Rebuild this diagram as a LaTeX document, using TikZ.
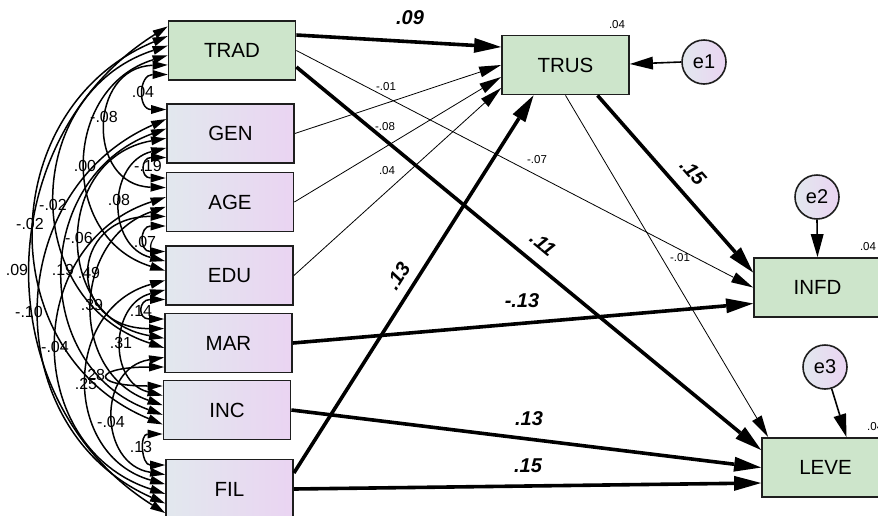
\documentclass[tikz,border=0pt]{standalone}
\usepackage{fontspec}
\setmainfont{Liberation Sans}
\usetikzlibrary{arrows.meta,calc}
\definecolor{boxgreen}{HTML}{CDE5CB}
\definecolor{exoleft}{HTML}{E2E8EE}
\definecolor{exoright}{HTML}{EAD4F2}
\definecolor{edgec}{HTML}{1E1E1E}
\tikzset{
  endo/.style={draw=edgec, line width=1.8pt, fill=boxgreen, minimum width=127pt, minimum height=59pt, inner sep=0pt, font=\fontsize{20.5}{24}\selectfont},
  exo/.style={draw=edgec, line width=1.8pt, left color=exoleft, right color=exoright, minimum width=127pt, minimum height=59pt, inner sep=0pt, font=\fontsize{20.5}{24}\selectfont},
  errc/.style={circle, draw=edgec, line width=1.6pt, left color=exoleft, right color=exoright, minimum size=44pt, inner sep=0pt, font=\fontsize{20}{24}\selectfont},
  bigarr/.style={line width=3.6pt, -{Triangle[length=27pt,width=15pt,line width=0pt]}},
  thinarr/.style={line width=0.8pt, -{Triangle[length=22pt,width=11pt,line width=0pt]}},
  errarr/.style={line width=1.6pt, -{Triangle[length=23pt,width=13pt,line width=0pt]}},
  covline/.style={line width=1.5pt, {Triangle[length=15pt,width=9pt,line width=0pt]}-{Triangle[length=15pt,width=9pt,line width=0pt]}},
  boldlab/.style={font=\fontsize{20}{24}\selectfont\bfseries\itshape, inner sep=0pt},
  smalllab/.style={font=\fontsize{11.5}{13}\selectfont, inner sep=0pt},
  covlab/.style={font=\fontsize{16}{18}\selectfont, inner sep=0pt},
}
% #1 upper node, #2 its offset, #3 lower node, #4 its offset, #5 leftmost x
\newcommand\covarc[5]{%
  \draw[covline] let \p1=([yshift=#2pt]#1.west), \p2=([yshift=#4pt]#3.west),
    \n1={\x1-#5}, \n2={\y1-\y2}, \n3={2*atan(2*\n1/\n2)},
    \n4={max(0,cos(\n3)/sin(\n3))}, \n5={4*\n1/3}, \n6={\n4*\n5} in
    (\p1) .. controls +(-\n5,-\n6) and +(-\n5,\n6) .. (\p2);}
\begin{document}
\begin{tikzpicture}[x=1pt,y=1pt]
\useasboundingbox (0,0) rectangle (878,-515);
% observed variables
\node[endo] (TRAD) at (232,-50.5) {TRAD};
\node[exo] (GEN) at (230.5,-133.5) {GEN};
\node[exo] (AGE) at (230,-202) {AGE};
\node[exo] (EDU) at (229.5,-275.5) {EDU};
\node[exo] (MAR) at (228.5,-343) {MAR};
\node[exo] (INC) at (227,-410) {INC};
\node[exo] (FIL) at (229.5,-489) {FIL};
\node[endo] (TRUS) at (565.5,-65) {TRUS};
\node[endo] (INFD) at (817.5,-287.5) {INFD};
\node[endo] (LEVE) at (825.5,-467.5) {LEVE};
\node[errc] (e1) at (704,-62) {e1};
\node[errc] (e2) at (817,-197) {e2};
\node[errc] (e3) at (825,-367) {e3};
% R squared
\node[smalllab] (r1) at (617,-25) {.04};
\node[smalllab] (r2) at (868,-247) {.04};
\node[smalllab, anchor=west] (r3) at (867,-427) {.04};
% regression paths
\draw[bigarr] ([yshift=15.5pt]TRAD.east) -- ([yshift=18pt]TRUS.west);
\draw[thinarr] (GEN.east) -- (TRUS.west);
\draw[thinarr] (AGE.east) -- ([yshift=-12pt]TRUS.west);
\draw[thinarr] (EDU.east) -- ([yshift=-23pt]TRUS.west);
\draw[bigarr] ([yshift=16pt]FIL.east) -- ([xshift=-32pt]TRUS.south);
\draw[thinarr] (TRAD.east) -- (INFD.west);
\draw[bigarr] ([yshift=-16.5pt]TRAD.east) -- ([yshift=17.5pt]LEVE.west);
\draw[bigarr] ([xshift=32pt]TRUS.south) -- ([yshift=15pt]INFD.west);
\draw[thinarr] (TRUS.south) -- ([xshift=7pt]LEVE.north west);
\draw[bigarr] (MAR.east) -- ([yshift=-16pt]INFD.west);
\draw[bigarr] (INC.east) -- (LEVE.west);
\draw[bigarr] (FIL.east) -- ([yshift=-15.5pt]LEVE.west);
\draw[errarr] (e1.west) -- ([yshift=1pt]TRUS.east);
\draw[errarr] (e2.south) -- (INFD.north);
\draw[errarr] (e3) -- ([xshift=21pt]LEVE.north);
% path labels
\node[boldlab] (p1) at (410,-18) {.09};
\node[smalllab] (p2) at (386,-87) {-.01};
\node[smalllab] (p3) at (385,-127) {-.08};
\node[smalllab] (p4) at (387,-171) {.04};
\node[smalllab] (p5) at (537,-160) {-.07};
\node[boldlab, rotate=-48.6] (p6) at (693,-172) {.15};
\node[boldlab, rotate=-39.6] (p7) at (543,-244) {.11};
\node[smalllab] (p8) at (680,-258) {-.01};
\node[boldlab, rotate=57.8] (p9) at (398,-276) {.13};
\node[boldlab] (p10) at (522,-301) {-.13};
\node[boldlab] (p11) at (529,-419) {.13};
\node[boldlab] (p12) at (528,-466) {.15};
% covariances
\covarc{TRAD}{-24}{GEN}{24}{146}
\covarc{GEN}{-24}{AGE}{24}{147}
\covarc{AGE}{-24}{EDU}{24}{146}
\covarc{EDU}{-24}{MAR}{24}{145}
\covarc{MAR}{-24}{INC}{24}{110}
\covarc{INC}{-24}{FIL}{24}{145}
\covarc{TRAD}{-14.4}{AGE}{14.4}{108}
\covarc{GEN}{-14.4}{EDU}{14.4}{122}
\covarc{AGE}{-14.4}{MAR}{14.4}{92}
\covarc{EDU}{-14.4}{INC}{14.4}{124}
\covarc{MAR}{-14.4}{FIL}{14.4}{114}
\covarc{TRAD}{-4.8}{EDU}{4.8}{88}
\covarc{GEN}{-4.8}{MAR}{4.8}{82}
\covarc{AGE}{-4.8}{INC}{4.8}{95}
\covarc{EDU}{-4.8}{FIL}{4.8}{88}
\covarc{TRAD}{4.8}{MAR}{-4.8}{58}
\covarc{GEN}{4.8}{INC}{-4.8}{66}
\covarc{AGE}{4.8}{FIL}{-4.8}{58}
\covarc{TRAD}{14.4}{INC}{-14.4}{38}
\covarc{GEN}{14.4}{FIL}{-14.4}{41}
\covarc{TRAD}{24}{FIL}{-24}{33}
% covariance labels
\node[covlab] (c1) at (143,-92) {.04};
\node[covlab] (c2) at (148,-166) {-.19};
\node[covlab] (c3) at (145,-242) {.07};
\node[covlab] (c4) at (141,-311) {.14};
\node[covlab] (c5) at (94,-375) {.28};
\node[covlab] (c6) at (141,-447) {.13};
\node[covlab] (c7) at (104,-117) {-.08};
\node[covlab] (c8) at (119,-200) {.08};
\node[covlab] (c9) at (89,-273) {.49};
\node[covlab] (c10) at (121,-343) {.31};
\node[covlab] (c11) at (111,-422) {-.04};
\node[covlab] (c12) at (85,-166) {.00};
\node[covlab] (c13) at (79,-238) {-.06};
\node[covlab] (c14) at (92,-305) {.39};
\node[covlab] (c15) at (86,-384) {.25};
\node[covlab] (c16) at (53,-205) {-.02};
\node[covlab] (c17) at (63,-270) {.19};
\node[covlab] (c18) at (55,-347) {-.04};
\node[covlab] (c19) at (30,-224) {-.02};
\node[covlab] (c20) at (29,-312) {-.10};
\node[covlab] (c21) at (17,-270) {.09};
\end{tikzpicture}
\end{document}
